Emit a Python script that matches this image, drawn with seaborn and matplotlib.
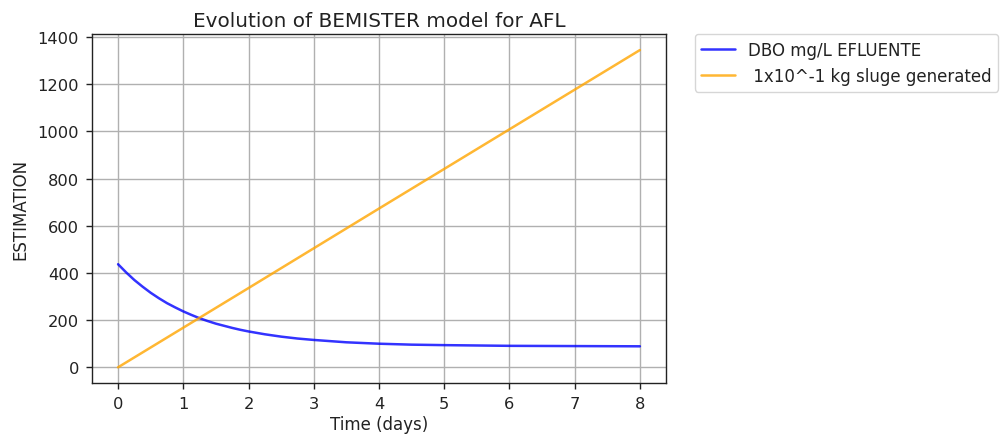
import numpy as np
import pandas as pd
import matplotlib
matplotlib.use("Agg")
import matplotlib.pyplot as plt
import seaborn as sns

# values
days_dbo = [0, 0.125, 0.25, 0.375, 0.5, 0.625, 0.75, 0.875, 1, 1.125, 1.25, 1.375, 1.5,
            1.625, 1.75, 1.875, 2, 2.25, 2.5, 2.75, 3, 3.5, 4, 4.5, 5, 6, 7, 8]
dbo_effluent = [437, 402, 370, 342, 316, 293, 272, 254, 237, 222, 208, 196, 185,
                176, 167, 159, 152, 140, 130, 122, 116, 106, 100, 96, 94, 91, 90, 89]

days_sludge = [0, 2, 4, 6, 8]
sludge_generated = [0, 336, 673, 1009, 1345]

dbo_label = "DBO mg/L EFLUENTE"
sludge_label = " 1x10^-1 kg sluge generated"

sns.set_style("ticks")
plt.rcParams["font.family"] = ["DejaVu Sans"]

fig = plt.figure(figsize=(10.03, 4.35), dpi=100)
ax = fig.add_axes([0.0917, 0.117, 0.5723, 0.8025])

df_dbo = pd.DataFrame({"t": days_dbo, "v": dbo_effluent})
df_sl = pd.DataFrame({"t": days_sludge, "v": sludge_generated})

sns.lineplot(data=df_dbo, x="t", y="v", ax=ax, color="blue", alpha=0.8,
             linewidth=1.8, label=dbo_label)
sns.lineplot(data=df_sl, x="t", y="v", ax=ax, color="orange", alpha=0.8,
             linewidth=1.8, label=sludge_label)

ax.set_xlim(-0.4, 8.4)
ax.set_ylim(-67, 1413)
ax.set_xticks(range(0, 9))
ax.set_yticks(range(0, 1401, 200))
ax.grid(True, color="#b0b0b0", linewidth=1.0)
for s in ax.spines.values():
    s.set_visible(True)
    s.set_color("#222222")
    s.set_linewidth(1.0)
ax.tick_params(direction="out", length=4.0, width=1.0, pad=5.5,
               colors="#222222", labelsize=11.7)

ax.set_title("Evolution of BEMISTER model for AFL", fontsize=14.4, color="#222222")
ax.set_xlabel("Time (days)", fontsize=12, color="#222222", labelpad=3)
ax.set_ylabel("ESTIMATION", fontsize=12, color="#222222", labelpad=6)
leg = ax.legend(bbox_to_anchor=(1.05, 1), loc=2, borderaxespad=0.0, fontsize=12)
for t in leg.get_texts():
    t.set_color("#222222")

fig.savefig("out.png", dpi=100)
